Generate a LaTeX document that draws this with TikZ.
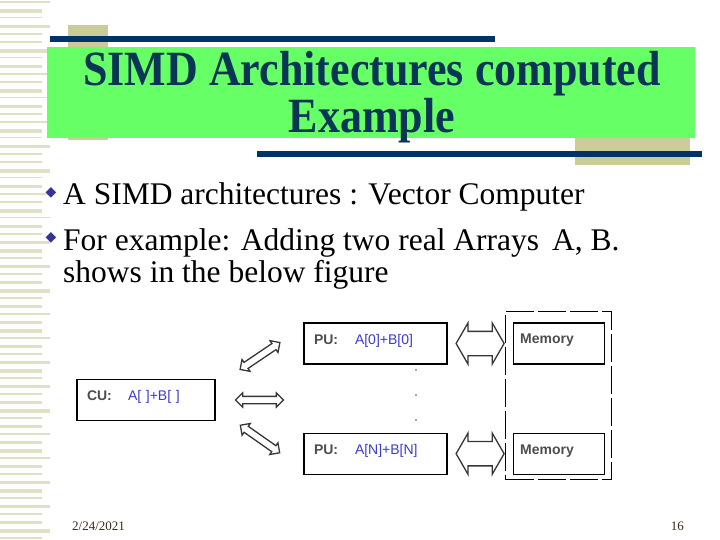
\documentclass[tikz,border=0pt]{standalone}
\usepackage{fontspec}
\setmainfont{Liberation Serif}
\setsansfont{Liberation Sans}
\newfontfamily\symfont{DejaVu Sans}
\usepackage{tikz}
\usetikzlibrary{positioning,shapes.arrows,fit,calc}
\definecolor{sl-green}{HTML}{66FF66}
\definecolor{sl-navy}{HTML}{003366}
\definecolor{sl-title}{HTML}{0B3556}
\definecolor{sl-khaki}{HTML}{CCCC99}
\definecolor{sl-stripe}{HTML}{E0E0C4}
\definecolor{sl-bullet}{HTML}{33339A}
\definecolor{sl-gray}{HTML}{4D4D4D}
\definecolor{sl-blue}{HTML}{3B3BD0}
\definecolor{sl-foot}{HTML}{3A2A1A}
\tikzset{unit/.style={draw=black,line width=1.2pt,fill=white,minimum height=41pt,inner sep=0pt,align=left,font=\sffamily\fontsize{14}{15}\selectfont}}
\tikzset{bidir/.style={double arrow,draw=sl-gray!70!black,fill=white,line width=1.3pt,inner sep=3pt,double arrow head extend=3.5pt,minimum height=48pt,double arrow tip angle=90}}
\tikzset{bullettext/.style={anchor=base west,inner xsep=0pt,font=\fontsize{31.5}{33}\selectfont}}
\tikzset{bulletmark/.style={text=sl-bullet,font=\symfont\fontsize{14}{14}\selectfont,inner sep=0pt}}
\newcommand{\unitlabel}[2]{\raisebox{9pt}{\makebox[41pt][l]{\textcolor{sl-gray}{\bfseries #1}}\textcolor{sl-blue}{#2}}}

\begin{document}
\begin{tikzpicture}[
    x=1pt, y=-1pt,
    >=latex
  ]
  \useasboundingbox (0,0) rectangle (720,540);

  % slide decoration
  \foreach \i in {0,...,67} {
    \pgfmathsetmacro{\h}{{2.5,4,1.5,3,2}[mod(\i,5)]}
    \pgfmathsetmacro{\w}{{50,42,42}[mod(\i,3)]}
    \fill[sl-stripe] (0,8*\i+1) rectangle (\w,8*\i+1+\h);
  }
  \fill[sl-khaki] (68,25) rectangle (108,140);
  \fill[sl-khaki] (575,138) rectangle (690,165);
  \fill[sl-navy] (50,36) rectangle (495,42);
  \fill[sl-green] (47,47) rectangle (695,138);
  \fill[sl-navy] (257,151) rectangle (702,157);

  % title
  \node (title) [text=sl-title, font=\bfseries\fontsize{44}{38.5}\selectfont] at (372,98)
    {\scalebox{1}[1.12]{\begin{tabular}{@{}c@{}}SIMD Architectures computed\\Example\end{tabular}}};

  % bullets
  \node (b1) [bullettext] at (63,205) {A SIMD architectures : Vector Computer};
  \node (b2) [bullettext] at (63,250) {For example: Adding two real Arrays\, A, B.};
  \node (b3) [bullettext] at (63,282) {shows in the below figure};
  \node (d1) [bulletmark] at (51,193) {◆};
  \node (d2) [bulletmark] at (51,238) {◆};

  % figure
  \node (cu)  [unit, minimum width=138pt, text width=118pt] at (146,400) {\unitlabel{CU:}{A[ ]+B[ ]}};
  \node (pu0) [unit, minimum width=143pt, text width=123pt] at (375.5,343.5) {\unitlabel{PU:}{A[0]+B[0]}};
  \node (puN) [unit, minimum width=143pt, text width=123pt, below=68pt of pu0] {\unitlabel{PU:}{A[N]+B[N]}};
  \node (mem0) [unit, minimum width=91pt, text width=77pt, right=65pt of pu0] {\raisebox{9pt}{\textcolor{sl-gray}{\bfseries Memory}}};
  \node (memN) [unit, minimum width=91pt, text width=77pt, right=65pt of puN] {\raisebox{9pt}{\textcolor{sl-gray}{\bfseries Memory}}};
  \node (frame) [draw=black, line width=1.2pt, dash pattern=on 28pt off 4pt, inner xsep=7pt, inner ysep=8pt, yshift=3pt, fit=(mem0)(memN)] {};

  % arrows
  \node (aup)  [bidir, rotate=34]  at (260,356) {};
  \node (amid) [bidir]             at ($(cu.east)!0.5!(pu0.west |- cu.east)$) {};
  \node (adn)  [bidir, rotate=-35] at (260,439) {};
  \node (m0ar) [bidir, minimum height=48pt, inner sep=11.5pt, double arrow head extend=8.5pt, double arrow tip angle=120]
    at ($(pu0.east)!0.5!(mem0.west)$) {};
  \node (mNar) [bidir, minimum height=48pt, inner sep=11.5pt, double arrow head extend=8.5pt, double arrow tip angle=120]
    at ($(puN.east)!0.5!(memN.west)$) {};

  % dots
  \foreach \y in {370,395,420}
    \fill[sl-gray] (416,\y) circle (0.8);

  % footer
  \node (date) [anchor=base west, inner xsep=0pt, text=sl-foot, font=\fontsize{13}{13}\selectfont] at (72,530) {2/24/2021};
  \node (page) [anchor=base east, inner xsep=0pt, text=sl-foot, font=\fontsize{13}{13}\selectfont] at (684,530) {16};
\end{tikzpicture}
\end{document}
